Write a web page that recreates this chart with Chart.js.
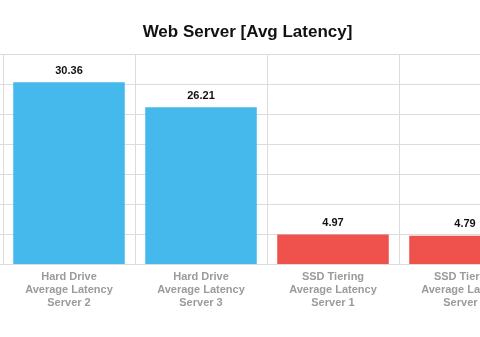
<!DOCTYPE html>
<html>
<head>
<meta charset="utf-8">
<script src="https://cdn.jsdelivr.net/npm/chart.js@4.4.1/dist/chart.umd.min.js"></script>
<style>
  html, body { margin: 0; padding: 0; background: #fff; }
  #wrap { position: relative; width: 480px; height: 337px; overflow: hidden; }
  #box { position: absolute; left: -36px; top: 0; width: 567px; height: 337px; }
</style>
</head>
<body>
<div id="wrap"><div id="box"><canvas id="latencyChart"></canvas></div></div>
<script>
// Average latency per server
const drives = ['Hard Drive', 'Hard Drive', 'SSD Tiering', 'SSD Tiering'];
const servers = ['Server 2', 'Server 3', 'Server 1', 'Server 2'];
const latency = [30.36, 26.21, 4.97, 4.79];
const yTicks = [0, 5, 10, 15, 20, 25, 30, 35];

const driveColors = { 'Hard Drive': '#45b8ec', 'SSD Tiering': '#ef514d' };
const gridColor = '#dcdcdc';
const font = "'Liberation Sans', Arial, Helvetica, sans-serif";

const labels = drives.map((d, i) => [d, 'Average Latency', servers[i]]);

// value printed above each bar
const valueLabels = {
  id: 'valueLabels',
  afterDatasetsDraw(chart) {
    const { ctx } = chart;
    const meta = chart.getDatasetMeta(0);
    ctx.save();
    ctx.font = `bold 11px ${font}`;
    ctx.fillStyle = '#111';
    ctx.textAlign = 'center';
    ctx.textBaseline = 'alphabetic';
    meta.data.forEach((bar, i) => {
      ctx.fillText(latency[i].toFixed(2), bar.x, bar.y - 8.5);
    });
    ctx.restore();
  }
};

new Chart(document.getElementById('latencyChart').getContext('2d'), {
  type: 'bar',
  data: {
    labels,
    datasets: [{
      data: latency,
      backgroundColor: drives.map(d => driveColors[d]),
      borderWidth: 0,
      barPercentage: 0.845,
      categoryPercentage: 1,
    }],
  },
  options: {
    responsive: true,
    maintainAspectRatio: false,
    animation: false,
    layout: { padding: { top: 12, bottom: 21, left: 0, right: 0 } },
    plugins: {
      legend: { display: false },
      tooltip: { enabled: false },
      title: {
        display: true,
        text: 'Web Server [Avg Latency]',
        color: '#111',
        font: { family: font, size: 17, weight: 'bold' },
        padding: { top: 10, bottom: 12 },
      },
    },
    scales: {
      x: {
        grid: { color: gridColor, drawTicks: false },
        border: { color: gridColor },
        ticks: {
          color: '#9b9b9b',
          padding: 6,
          maxRotation: 0,
          font: { family: font, size: 11, weight: 'bold', lineHeight: 1.2 },
        },
      },
      y: {
        min: 0,
        max: 35,
        afterBuildTicks: scale => { scale.ticks = yTicks.map(v => ({ value: v })); },
        afterFit: scale => { scale.width = 39; },
        grid: { color: gridColor, tickLength: 8 },
        border: { color: gridColor },
        ticks: { display: false },
      },
    },
  },
  plugins: [valueLabels],
});
</script>
</body>
</html>
